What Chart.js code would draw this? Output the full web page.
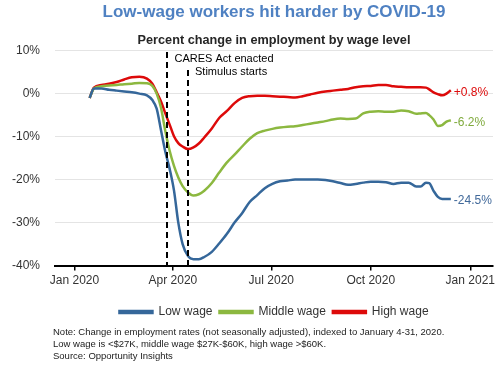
<!DOCTYPE html>
<html>
<head>
<meta charset="utf-8">
<script src="https://cdn.jsdelivr.net/npm/chart.js@4"></script>
<style>
  body { margin: 0; background: #fff; font-family: 'Liberation Sans', Arial, sans-serif; }
  #wrap { position: relative; width: 500px; height: 365px; }
  #box { position: absolute; left: 0; top: 0; width: 500px; height: 328px; }
  #note { position: absolute; left: 53px; top: 326px; font-size: 9.5px; line-height: 12px; color: #222; }
</style>
</head>
<body>
<div id="wrap">
  <div id="box"><canvas id="chart"></canvas></div>
  <div id="note">
    Note: Change in employment rates (not seasonally adjusted), indexed to January 4-31, 2020.<br>
    Low wage is &lt;$27K, middle wage $27K-$60K, high wage &gt;$60K.<br>
    Source: Opportunity Insights
  </div>
</div>
<script>
// Days counted from Jan 1 2020
const days = [14, 18, 25, 32, 39, 46, 53, 60, 67, 72, 76, 80, 84, 88, 92, 96, 100, 105, 110, 115,
  120, 127, 134, 141, 148, 155, 162, 169, 176, 183, 190, 197, 204, 211, 218, 225, 232, 239, 246, 253,
  260, 267, 274, 281, 288, 295, 302, 309, 316, 320, 325, 328, 332, 336, 340, 344, 348];

const lowWage = [-1.0, 1.2, 1.2, 0.9, 0.7, 0.5, 0.3, 0.0, -0.4, -1.5, -3.5, -8.5, -13.5, -17.5, -22.5, -30, -35, -37.8, -38.5, -38.5,
  -38, -36.8, -34.8, -32.6, -30, -27.8, -25.2, -23.6, -22, -21, -20.4, -20.2, -20, -20, -20, -20, -20.1, -20.4, -20.8, -21.2,
  -21, -20.7, -20.5, -20.5, -20.6, -21, -20.7, -20.7, -21.6, -21.6, -20.7, -20.8, -22.6, -24, -24.5, -24.5, -24.5];

const middleWage = [-1.0, 1.2, 1.7, 1.9, 2.0, 2.2, 2.3, 2.5, 2.4, 1.8, 0, -3.3, -8.7, -13.3, -16.8, -19.5, -21.5, -23, -23.7, -23.4,
  -22.6, -20.8, -18.3, -16, -14.2, -12.3, -10.5, -9.2, -8.6, -8.2, -7.9, -7.7, -7.6, -7.3, -7.0, -6.7, -6.4, -6.0, -5.8, -5.9,
  -5.8, -4.6, -4.2, -4.1, -4.2, -4.2, -3.9, -4.1, -4.7, -4.6, -4.5, -5.0, -6.0, -7.5, -7.3, -6.5, -6.2];

const highWage = [-1.0, 1.4, 2.0, 2.3, 2.7, 3.3, 3.8, 3.9, 3.5, 2.3, 0.3, -1.8, -4.6, -7.2, -9.9, -11.5, -12.3, -12.9, -12.5, -11.6,
  -10.2, -8.1, -5.6, -4.0, -2.2, -1.0, -0.6, -0.5, -0.5, -0.6, -0.7, -0.8, -0.9, -0.6, -0.2, 0.2, 0.5, 0.7, 0.9, 1.1,
  1.5, 1.7, 1.8, 2.0, 2.0, 1.7, 1.6, 1.5, 1.5, 1.5, 1.4, 1.0, 0.3, -0.1, -0.4, 0.0, 0.8];

const tickDays = [0, 91, 182, 274, 366];
const tickLabels = ['Jan 2020', 'Apr 2020', 'Jul 2020', 'Oct 2020', 'Jan 2021'];

// CARES Act (Mar 27) and stimulus start (Apr 15)
const events = [
  { day: 86, label: 'CARES Act enacted', top: 52, textY: 59 },
  { day: 105, label: 'Stimulus starts', top: 70, textY: 72 }
];

const colors = { low: '#35679a', middle: '#8cb840', high: '#dd0a0a' };
const font = "'Liberation Sans', Arial, sans-serif";

function series(values) {
  return days.map((d, i) => ({ x: d, y: values[i] }));
}

// dashed event lines + end labels
const extras = {
  id: 'extras',
  afterDatasetsDraw(chart) {
    const { ctx, scales: { x, y } } = chart;
    ctx.save();
    ctx.strokeStyle = '#000';
    ctx.lineWidth = 2;
    ctx.setLineDash([6, 4]);
    events.forEach(ev => {
      const px = Math.round(x.getPixelForValue(ev.day));
      ctx.beginPath();
      ctx.moveTo(px, ev.top);
      ctx.lineTo(px, y.bottom);
      ctx.stroke();
    });
    ctx.setLineDash([]);
    ctx.font = '11px ' + font;
    ctx.fillStyle = '#000';
    ctx.textBaseline = 'middle';
    ctx.textAlign = 'left';
    events.forEach(ev => {
      ctx.fillText(ev.label, x.getPixelForValue(ev.day) + 7, ev.textY);
    });

    ctx.font = '12px ' + font;
    chart.data.datasets.forEach(ds => {
      const last = ds.data[ds.data.length - 1];
      const v = last.y;
      const txt = (v > 0 ? '+' : '') + v.toFixed(1) + '%';
      ctx.fillStyle = ds.labelColor;
      ctx.fillText(txt, x.getPixelForValue(last.x) + 3, y.getPixelForValue(v) + 2);
    });
    ctx.restore();
  }
};

new Chart(document.getElementById('chart'), {
  type: 'line',
  data: {
    datasets: [
      { label: 'Low wage', data: series(lowWage), borderColor: colors.low, backgroundColor: colors.low, labelColor: '#41699a' },
      { label: 'Middle wage', data: series(middleWage), borderColor: colors.middle, backgroundColor: colors.middle, labelColor: '#7faa3c' },
      { label: 'High wage', data: series(highWage), borderColor: colors.high, backgroundColor: colors.high, labelColor: '#dd0a0a' }
    ]
  },
  options: {
    responsive: true,
    maintainAspectRatio: false,
    animation: false,
    layout: { padding: { left: 1, right: 7, top: 0, bottom: 0 } },
    elements: {
      line: { borderWidth: 2.5, cubicInterpolationMode: 'monotone' },
      point: { radius: 0 }
    },
    scales: {
      x: {
        type: 'linear',
        min: -18,
        max: 387,
        afterBuildTicks: scale => { scale.ticks = tickDays.map(v => ({ value: v })); },
        afterFit: scale => { scale.height += 8; },
        ticks: {
          autoSkip: false,
          maxRotation: 0,
          color: '#333',
          font: { family: font, size: 12 },
          padding: 3,
          callback: v => tickLabels[tickDays.indexOf(v)]
        },
        grid: { drawOnChartArea: false, drawTicks: true, tickLength: 5, color: '#000', lineWidth: 1.5 },
        border: { display: true, color: '#000', width: 2 }
      },
      y: {
        min: -40,
        max: 10,
        afterFit: scale => { scale.width -= 4; },
        ticks: {
          stepSize: 10,
          color: '#333',
          font: { family: font, size: 12 },
          padding: 15,
          callback: v => v + '%'
        },
        grid: { color: '#e4e4e4', drawTicks: false },
        border: { display: false }
      }
    },
    plugins: {
      title: {
        display: true,
        fullSize: false,
        text: 'Low-wage workers hit harder by COVID-19',
        color: '#4f81c2',
        font: { family: font, size: 17, weight: 'bold' },
        padding: { top: 2, bottom: 7 }
      },
      subtitle: {
        display: true,
        fullSize: false,
        text: 'Percent change in employment by wage level',
        color: '#262626',
        font: { family: font, size: 12.7, weight: 'bold' },
        padding: { top: 3, bottom: 3 }
      },
      legend: {
        position: 'bottom',
        fullSize: false,
        labels: {
          boxWidth: 33,
          boxHeight: 2,
          padding: 7,
          color: '#333',
          font: { family: font, size: 12 }
        }
      },
      tooltip: { enabled: false }
    }
  },
  plugins: [extras]
});
</script>
</body>
</html>
